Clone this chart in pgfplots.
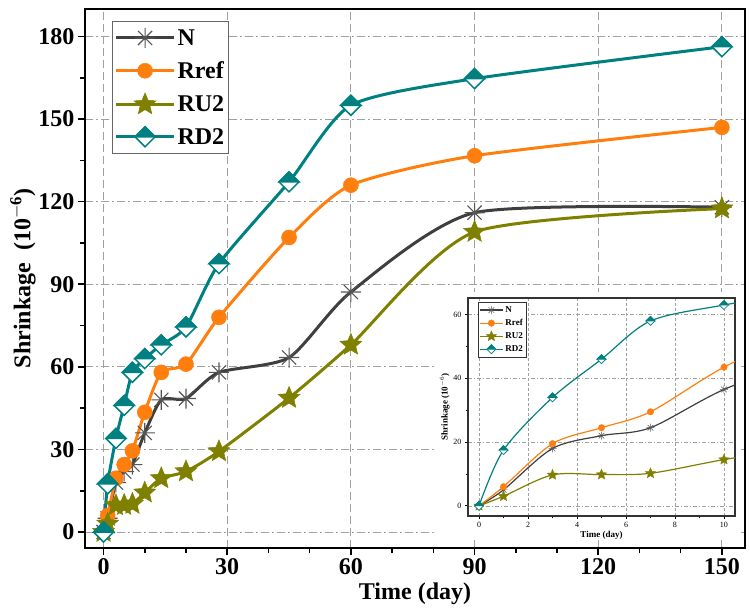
\documentclass[border=0pt]{standalone}
\usepackage{pgfplots}
\pgfplotsset{compat=1.18}
\usepackage{fontspec}
\setmainfont{Liberation Serif}
\definecolor{cN}{HTML}{3F3F3F}
\definecolor{cNm}{HTML}{555555}
\definecolor{cR}{HTML}{FF7F0E}
\definecolor{cU}{HTML}{808000}
\definecolor{cD}{HTML}{008080}
\definecolor{gridc}{HTML}{A0A0A0}
\pgfdeclareplotmark{halfdiamond}{%
  \pgfsetfillcolor{white}%
  \pgfpathmoveto{\pgfqpoint{0pt}{\pgfplotmarksize}}%
  \pgfpathlineto{\pgfqpoint{\pgfplotmarksize}{0pt}}%
  \pgfpathlineto{\pgfqpoint{0pt}{-\pgfplotmarksize}}%
  \pgfpathlineto{\pgfqpoint{-\pgfplotmarksize}{0pt}}%
  \pgfpathclose
  \pgfusepathqfillstroke
  \pgfsetfillcolor{cD}%
  \pgfpathmoveto{\pgfqpoint{-\pgfplotmarksize}{0pt}}%
  \pgfpathlineto{\pgfqpoint{0pt}{\pgfplotmarksize}}%
  \pgfpathlineto{\pgfqpoint{\pgfplotmarksize}{0pt}}%
  \pgfpathclose
  \pgfusepathqfillstroke
}
\pgfdeclareplotmark{fstar}{%
  \pgfpathmoveto{\pgfpointpolar{90}{\pgfplotmarksize}}%
  \pgfpathlineto{\pgfpointpolar{126}{0.45\pgfplotmarksize}}%
  \pgfpathlineto{\pgfpointpolar{162}{\pgfplotmarksize}}%
  \pgfpathlineto{\pgfpointpolar{198}{0.45\pgfplotmarksize}}%
  \pgfpathlineto{\pgfpointpolar{234}{\pgfplotmarksize}}%
  \pgfpathlineto{\pgfpointpolar{270}{0.45\pgfplotmarksize}}%
  \pgfpathlineto{\pgfpointpolar{306}{\pgfplotmarksize}}%
  \pgfpathlineto{\pgfpointpolar{342}{0.45\pgfplotmarksize}}%
  \pgfpathlineto{\pgfpointpolar{18}{\pgfplotmarksize}}%
  \pgfpathlineto{\pgfpointpolar{54}{0.45\pgfplotmarksize}}%
  \pgfpathclose
  \pgfusepathqfillstroke
}
\pgfdeclareplotmark{ast8}{%
  \pgfpathmoveto{\pgfqpoint{0pt}{\pgfplotmarksize}}%
  \pgfpathlineto{\pgfqpoint{0pt}{-\pgfplotmarksize}}%
  \pgfpathmoveto{\pgfqpoint{\pgfplotmarksize}{0pt}}%
  \pgfpathlineto{\pgfqpoint{-\pgfplotmarksize}{0pt}}%
  \pgfpathmoveto{\pgfpointpolar{45}{\pgfplotmarksize}}%
  \pgfpathlineto{\pgfpointpolar{225}{\pgfplotmarksize}}%
  \pgfpathmoveto{\pgfpointpolar{135}{\pgfplotmarksize}}%
  \pgfpathlineto{\pgfpointpolar{315}{\pgfplotmarksize}}%
  \pgfusepathqstroke
}
\pgfplotstableread{
d N Rref RU RD
0 0 0 0 0
1 5 6 3 17.5
3 18 19.5 9.7 34
5 22 24.5 9.8 46
7 24.5 29.5 10.2 58
10 36 43.5 14.3 63
14 48 58 19.5 68
20 48.5 61 22 74.5
28 58 78 29.3 97.5
45 63.4 107 48.7 127.2
60 87.2 126 68 155
90 116 136.7 109 164.7
150 118 147 117.5 176.3
}\maindata
\pgfplotstableread{
d N Rref RU RD
0 0 0 0 0
1 5 6 3 17.5
3 18 19.5 9.7 34
5 22 24.5 9.8 46
7 24.5 29.5 10.2 58
10 36.5 43.5 14.5 63
14 48 58 19.5 68
}\insetdata
\newcommand{\bigf}{\fontsize{24}{26}\selectfont\bfseries}
\begin{document}
\begin{tikzpicture}
\begin{axis}[
  at={(0pt,0pt)}, anchor=south west,
  scale only axis, width=660pt, height=539pt,
  xmin=-4.5, xmax=155.6, ymin=-5.8, ymax=190,
  xtick={0,30,...,150}, ytick={0,30,...,180},
  minor x tick num=2, minor y tick num=1,
  tick align=outside, xtick pos=bottom, ytick pos=left,
  major tick length=7pt, minor tick length=5pt,
  every tick/.style={black, line width=1.6pt},
  axis line style={line width=2.6pt},
  xmajorgrids, ymajorgrids,
  x grid style={gridc, line width=1pt, dash pattern=on 8pt off 4pt},
  y grid style={gridc, line width=1pt, dash pattern=on 8pt off 3pt on 2pt off 3pt},
  /pgf/number format/assume math mode=true,
  ticklabel style={font=\bigf},
  xlabel={Time (day)}, ylabel={Shrinkage\ \ (10$^{\mathbf{-6}}$)},
  label style={font=\bigf},
  xlabel style={yshift=-1pt},
  ylabel style={yshift=-4pt},
  legend style={at={(0.041,0.978)}, anchor=north west, draw=gray!80!black, line width=1pt,
    font=\bigf, inner sep=2pt, row sep=11pt, inner ysep=6pt},
  legend cell align=left,
  legend image code/.code={\draw[mark repeat=2,mark phase=2] plot coordinates {(0pt,0pt) (29pt,0pt) (58pt,0pt)};},
  every axis plot/.append style={smooth, tension=0.4, line width=3pt},
]
\addplot[cN, mark=ast8, mark size=10pt, mark options={cNm, line width=1.1pt, solid}] table[x=d,y=N] {\maindata};
\addlegendentry{N}
\addplot[cR, mark=*, mark size=7.5pt, mark options={cR, fill=cR, line width=0.5pt}] table[x=d,y=Rref] {\maindata};
\addlegendentry{Rref}
\addplot[cU, mark=fstar, mark size=11.5pt, mark options={cU, fill=cU, line width=0.5pt}] table[x=d,y=RU] {\maindata};
\addlegendentry{RU2}
\addplot[cD, mark=halfdiamond, mark size=10pt, mark options={cD, line width=1.5pt}] table[x=d,y=RD] {\maindata};
\addlegendentry{RD2}
\end{axis}
\fill[white] (352pt,8pt) rectangle (653pt,256pt);
\begin{axis}[
  at={(383pt,32pt)}, anchor=south west,
  scale only axis, width=267pt, height=218pt,
  xmin=-0.45, xmax=10.45, ymin=-3.2, ymax=65.2,
  xtick={0,2,...,10}, ytick={0,20,40,60},
  minor x tick num=1, minor y tick num=1,
  tick align=outside, xtick pos=bottom, ytick pos=left,
  major tick length=3pt, minor tick length=2pt,
  every tick/.style={black, line width=0.8pt},
  axis line style={line width=1.5pt, black!80},
  axis background/.style={fill=white},
  xmajorgrids, ymajorgrids,
  x grid style={gridc, line width=0.6pt, dash pattern=on 3pt off 2pt},
  y grid style={gridc, line width=0.6pt, dash pattern=on 4pt off 2pt on 1pt off 2pt},
  /pgf/number format/assume math mode=true,
  ticklabel style={font=\fontsize{8}{9}\selectfont},
  xlabel={Time (day)}, ylabel={Shrinkage (10$^{-6}$)},
  label style={font=\fontsize{9}{10}\selectfont\bfseries},
  xlabel style={yshift=4pt},
  ylabel style={yshift=-3pt},
  legend style={at={(0.037,0.982)}, anchor=north west, draw=black!80, line width=0.8pt,
    font=\fontsize{9}{10}\selectfont\bfseries, inner sep=1pt, row sep=1.5pt, inner ysep=2pt},
  legend cell align=left,
  legend image code/.code={\draw[mark repeat=2,mark phase=2] plot coordinates {(0pt,0pt) (11.5pt,0pt) (23pt,0pt)};},
  every axis plot/.append style={smooth, tension=0.5, line width=1.2pt},
]
\addplot[cN, mark=ast8, mark size=4pt, mark options={cNm, line width=0.5pt}] table[x=d,y=N] {\insetdata};
\addlegendentry{N}
\addplot[cR, mark=*, mark size=3.3pt, mark options={cR, fill=cR, line width=0.3pt}] table[x=d,y=Rref] {\insetdata};
\addlegendentry{Rref}
\addplot[cU, mark=fstar, mark size=5.5pt, mark options={cU, fill=cU, line width=0.3pt}] table[x=d,y=RU] {\insetdata};
\addlegendentry{RU2}
\addplot[cD, mark=halfdiamond, mark size=4.5pt, mark options={cD, line width=0.7pt}] table[x=d,y=RD] {\insetdata};
\addlegendentry{RD2}
\end{axis}
\path ([xshift=-85pt,yshift=-60pt]0pt,0pt) rectangle (665pt,548pt);
\end{tikzpicture}
\end{document}
